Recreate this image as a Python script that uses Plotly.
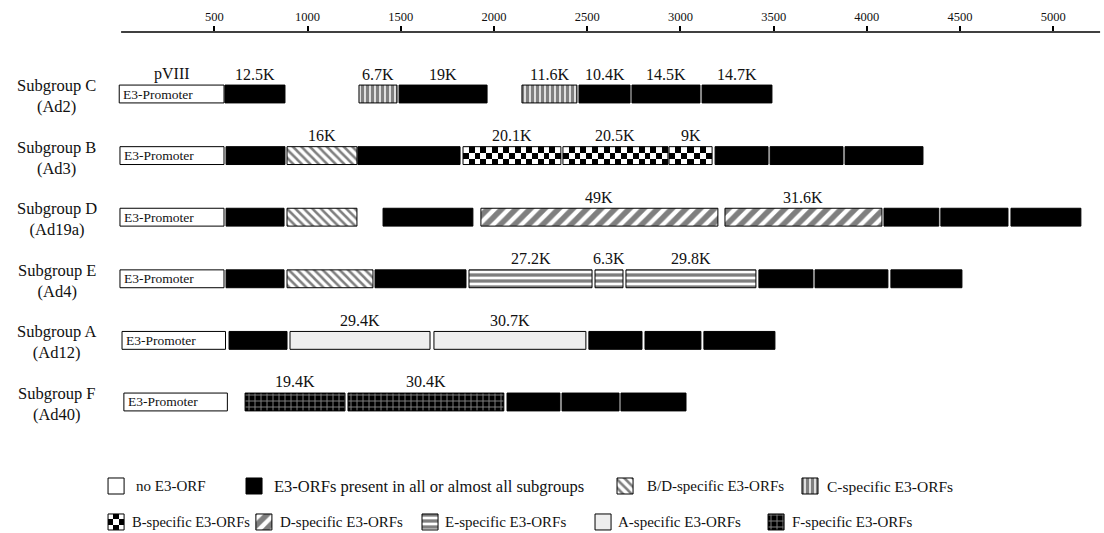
import numpy as np
import plotly.graph_objects as go

# ---------------- data ----------------
tick_vals = [500, 1000, 1500, 2000, 2500, 3000, 3500, 4000, 4500, 5000]

row_labels = ["Subgroup C<br>(Ad2)", "Subgroup B<br>(Ad3)", "Subgroup D<br>(Ad19a)",
              "Subgroup E<br>(Ad4)", "Subgroup A<br>(Ad12)", "Subgroup F<br>(Ad40)"]

promoter_start = [-10, -6, -6, -6, 5, 15]
promoter_end = [552, 552, 552, 552, 560, 570]
promoter_top_label = ["pVIII", "", "", "", "", ""]

# (start, end, class, label)
seg_C = [(557, 879, "common", "12.5K"), (1276, 1480, "C", "6.7K"), (1491, 1963, "common", "19K"),
         (2150, 2445, "C", "11.6K"), (2456, 2730, "common", "10.4K"),
         (2740, 3105, "common", "14.5K"), (3116, 3491, "common", "14.7K")]
seg_B = [(563, 879, "common", ""), (890, 1265, "BD", "16K"), (1270, 1818, "common", ""),
         (1834, 2359, "B", "20.1K"), (2370, 2933, "B", "20.5K"), (2939, 3170, "B", "9K"),
         (3186, 3470, "common", ""), (3481, 3872, "common", ""), (3883, 4301, "common", "")]
seg_D = [(563, 874, "common", ""), (890, 1265, "BD", ""), (1405, 1887, "common", ""),
         (1930, 3201, "D", "49K"), (3239, 4081, "D", "31.6K"), (4092, 4386, "common", ""),
         (4397, 4757, "common", ""), (4773, 5148, "common", "")]
seg_E = [(563, 874, "common", ""), (890, 1351, "BD", ""), (1362, 1850, "common", ""),
         (1866, 2526, "E", "27.2K"), (2542, 2692, "E", "6.3K"), (2708, 3405, "E", "29.8K"),
         (3421, 3711, "common", ""), (3722, 4113, "common", ""), (4129, 4510, "common", "")]
seg_A = [(579, 890, "common", ""), (906, 1657, "A", "29.4K"), (1678, 2493, "A", "30.7K"),
         (2509, 2794, "common", ""), (2810, 3110, "common", ""), (3126, 3507, "common", "")]
seg_F = [(665, 1201, "F", "19.4K"), (1217, 2053, "F", "30.4K"), (2070, 2354, "common", ""),
         (2365, 2671, "common", ""), (2681, 3030, "common", "")]
segments = [seg_C, seg_B, seg_D, seg_E, seg_A, seg_F]

legend_classes = ["none", "common", "BD", "C", "B", "D", "E", "A", "F"]
legend_texts = ["no E3-ORF", "E3-ORFs present in all or almost all subgroups",
                "B/D-specific E3-ORFs", "C-specific E3-ORFs",
                "B-specific E3-ORFs", "D-specific E3-ORFs", "E-specific E3-ORFs",
                "A-specific E3-ORFs", "F-specific E3-ORFs"]

# ---------------- layout constants ----------------
W, H = 1104, 533
X_RANGE = [-649.5, 5272]
Y_RANGE = [7.127, -1.0065]
BAR_H = 0.29
SW_H = 0.26
SW_W = 86
legend_row = [0, 0, 0, 0, 1, 1, 1, 1, 1]
legend_swatch_x = [-70, 670, 2660, 3652, -70, 723, 1614, 2542, 3470]
legend_text_x = [69, 809, 2810, 3775, 48, 841, 1727, 2654, 3588]
legend_font = [15, 16.5, 15, 15.5, 14.5, 15, 15, 15, 15]
legend_y = [6.364, 6.948]
FONT = "Liberation Serif, Times New Roman, serif"

styles = {
    "none": dict(color="white"),
    "common": dict(color="black"),
    "BD": dict(color="white", pattern=dict(shape="\\", fgcolor="black", bgcolor="white", size=6, solidity=0.42)),
    "C": dict(color="white", pattern=dict(shape="|", fgcolor="black", bgcolor="white", size=5, solidity=0.7)),
    "B": dict(color="rgba(0,0,0,0)"),
    "D": dict(color="white", pattern=dict(shape="/", fgcolor="black", bgcolor="white", size=10, solidity=0.55)),
    "E": dict(color="white", pattern=dict(shape="-", fgcolor="black", bgcolor="white", size=6, solidity=0.55)),
    "A": dict(color="#eeeeee"),
    "F": dict(color="black", pattern=dict(shape="+", fgcolor="white", bgcolor="black", size=6, solidity=0.3)),
}

fig = go.Figure()

bars = {k: dict(base=[], x=[], y=[], w=[]) for k in styles}
checkers = []  # (x0, x1, yc, h)

for i in range(len(row_labels)):
    b = bars["none"]
    b["base"].append(promoter_start[i]); b["x"].append(promoter_end[i] - promoter_start[i])
    b["y"].append(i); b["w"].append(BAR_H)
    for (s, e, c, lab) in segments[i]:
        bb = bars[c]
        bb["base"].append(s); bb["x"].append(e - s); bb["y"].append(i); bb["w"].append(BAR_H)
        if c == "B":
            checkers.append((s, e, i, BAR_H))

for k, c in enumerate(legend_classes):
    bb = bars[c]
    x0 = legend_swatch_x[k]
    yc = legend_y[legend_row[k]]
    bb["base"].append(x0); bb["x"].append(SW_W); bb["y"].append(yc); bb["w"].append(SW_H)
    if c == "B":
        checkers.append((x0, x0 + SW_W, yc, SW_H))

# checkerboard fill for B-specific ORFs (heatmap beneath the outlines)
CELL = 31
for (x0, x1, yc, h) in checkers:
    n = max(3, int(round((x1 - x0) / CELL)))
    xe = np.linspace(x0, x1, n + 1)
    ye = np.linspace(yc - h / 2, yc + h / 2, 4)
    z = [[(r + cidx) % 2 for cidx in range(n)] for r in range(3)]
    fig.add_trace(go.Heatmap(x=xe, y=ye, z=z, colorscale=[[0, "white"], [1, "black"]],
                             zmin=0, zmax=1, showscale=False, hoverinfo="skip"))

for c, st in styles.items():
    bb = bars[c]
    if not bb["x"]:
        continue
    marker = dict(line=dict(color="black", width=1))
    marker.update(st)
    fig.add_trace(go.Bar(orientation="h", base=bb["base"], x=bb["x"], y=bb["y"], width=bb["w"],
                         marker=marker, hoverinfo="skip", showlegend=False))

annotations = []
for i, lab in enumerate(row_labels):
    annotations.append(dict(x=-344, y=i, text=lab, showarrow=False, xanchor="center", yanchor="middle",
                            align="center", yshift=-2, font=dict(family=FONT, size=16.5, color="#111")))
    annotations.append(dict(x=promoter_start[i], y=i, text="E3-Promoter", showarrow=False, xanchor="left",
                            xshift=2, yanchor="middle", font=dict(family=FONT, size=13.5, color="#111")))
    if promoter_top_label[i]:
        annotations.append(dict(x=(promoter_start[i] + promoter_end[i]) / 2, y=i, text=promoter_top_label[i],
                                showarrow=False, yshift=20, font=dict(family=FONT, size=16, color="#111")))
    for (s, e, c, lab) in segments[i]:
        if lab:
            annotations.append(dict(x=(s + e) / 2, y=i, text=lab, showarrow=False, yshift=20,
                                    font=dict(family=FONT, size=16, color="#111")))

for k, t in enumerate(legend_texts):
    annotations.append(dict(x=legend_text_x[k], y=legend_y[legend_row[k]], text=t, showarrow=False,
                            xanchor="left", yanchor="middle",
                            font=dict(family=FONT, size=legend_font[k], color="#111")))

fig.update_layout(
    width=W, height=H, margin=dict(l=0, r=0, t=32, b=0),
    paper_bgcolor="white", plot_bgcolor="white",
    barmode="overlay", showlegend=False,
    annotations=annotations,
    shapes=[dict(type="line", xref="x", yref="paper", x0=0, x1=5251, y0=1, y1=1,
                 line=dict(color="black", width=1.5))],
    xaxis=dict(range=X_RANGE, side="top", tickvals=tick_vals, ticks="outside", ticklen=5,
               tickwidth=1.5, tickcolor="black", showgrid=False, zeroline=False, showline=False,
               tickfont=dict(family=FONT, size=12.5, color="#111"), fixedrange=True),
    yaxis=dict(range=Y_RANGE, autorange=False, visible=False, showgrid=False, zeroline=False, fixedrange=True),
)

fig.write_html("out.html")
